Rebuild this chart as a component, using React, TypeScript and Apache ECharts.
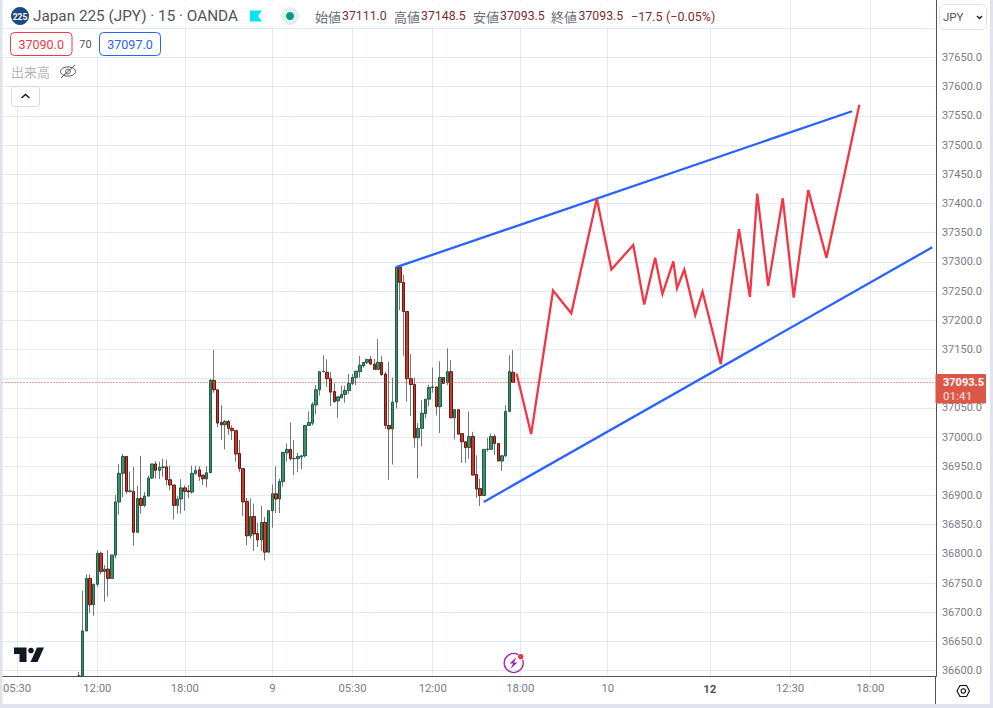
import React, { useEffect, useRef } from "react";
import * as echarts from "echarts";

// bar index of the first candle; each array runs from this bar onward
const firstBar = 21;
const barCount = 257;

const opens = [
  36591,36591,36668,36758,36713,36748,36801,36770,36774,36758,
  36798,36889,36938,36967,36907,36907,36837,36895,36883,36899,
  36930,36954,36943,36948,36949,36927,36918,36883,36894,36913,
  36908,36906,36938,36944,36935,36928.5,36939,37097,37081,37025,
  37021,37027,37015,37011,36972,36946,36890,36831,36864,36835,
  36824,36854,36803,36874,36903,36894,36924,36973,36979,36963,
  36963,36966,36968,37020,37024,37055,37081,37112,37111,37100,
  37078,37062,37067,37073,37080,37092,37102,37112,37122,37128,
  37133,37125,37116,37128,37108,37020,37014,37060,37291,37265,
  37215,37100,37090,36999,37015,37040,37065,37085,37086,37052,
  37102,37093,37112,37033,37047,37006,36992,36982,37001,36936,
  36912,36900,36979,36979,37001,36989,36959,36968,37044,37111,
];
const closes = [
  36591,36668,36758,36713,36748,36801,36770,36774,36758,36798,
  36889,36938,36967,36907,36908,36837,36895,36883,36899,36930,
  36954,36943,36948,36949,36927,36918,36883,36894,36913,36907,
  36906,36938,36943,36933,36928.5,36939,37097.5,37081,37024,37021,
  37027,37015,37011,36971,36946,36889,36831,36864,36834,36824,
  36854,36803,36874,36903,36894,36924,36974,36979,36963,36963.5,
  36967,36968,37020,37025,37056,37081,37112,37112.5,37100,37077,
  37061,37069,37073,37080,37092,37102,37113,37123,37128,37133,
  37125,37116,37128,37107,37020,37014,37060,37291,37265,37215,
  37100,37090,36999,37015,37041,37065,37085,37086,37052,37102,
  37092,37112,37033,37047,37005,36992,36982,37001,36935,36911,
  36900,36979,36979.5,37001,36989,36959,36968,37044,37112,37093.5,
];
const lows = [
  36591,36591,36668,36699,36694,36744,36765,36718,36727,36758,
  36792,36867,36897,36903,36905,36814,36837,36869,36880,36899,
  36928,36929,36928,36932,36917,36909,36859,36869,36869,36874,
  36895,36903,36935,36925,36918,36914,36939,37076,37017,36995,
  36979,37004,36995,36958,36940,36865,36815,36826,36805,36812,
  36805,36789,36803,36845,36870,36870,36915,36958,36960,36935,
  36940,36945,36965,37020,37020,37039,37071,37111,37086,37053,
  37059,37033,37067,37059,37074,37089,37089,37102,37119,37125,
  37125,37116,37116,37105,37014,36927,36953,37049,37217,37139,
  37061,37036,36982,36929,36984,37032,37053,37076,37037,37007,
  37092,37089,37033,36996,37005,36956,36956,36963,36935,36896,
  36882,36900,36975,36979,36969,36959,36942,36966,37044,37093.5,
];
const highs = [
  36598,36737,36765,36765,36748,36806,36804,36781,36806,36798,
  36901,36954,36971,36967,36941,36949,36917,36968,36906,36934,
  36954,36959,36958,36963,36961,36951,36918,36899,36928,36917,
  36918,36951,36951,36950,36935,36950,37100,37149,37081,37055,
  37029,37029,37020,37011,36995,36946,36896,36895,36886,36853,
  36882,36863,36874,36919,36950,36929,36974,36989,37025,36995,
  36973,36968,37020,37044,37060,37089,37112,37140,37133,37112,
  37092,37069,37088,37088,37108,37108,37113,37139,37128,37133,
  37139,37134,37168,37139,37112,37129,37102,37291,37291,37278,
  37215,37142,37102,37024,37063,37065,37090,37119,37086,37130,
  37102,37152,37132,37047,37047,37006,36992,37044,37009,36969,
  36929,36979,36999,37006,37005,36989,36968,37055,37140,37149,
];

const tickBars = [4, 26, 50, 74, 96, 118, 142, 166, 194, 216, 238];
const tickLabels = ["05:30", "12:00", "18:00", "9", "05:30", "12:00", "18:00", "10", "12", "12:30", "18:00"];

const redPathBars = [141,145,151,156,163,167,173,176,179,181,184,185,187,190,192,197,202,205,207,210,214,217,221,226,235];
const redPathPrices = [37109,37005,37251,37212,37408,37287,37329,37227,37307,37245,37301,37255,37287,37209,37249,37125,37356,37240,37417,37259,37409,37239,37423,37307,37569];
const upperTrendBars = [108, 233];
const upperTrendPrices = [37291, 37558];
const lowerTrendBars = [132, 255];
const lowerTrendPrices = [36889, 37325];

const lastPrice = 37093.5;
const axisMin = 36590.4;
const axisMax = 37748.5;

const GRID = "#e3ebf2";
const AXIS = "#50535e";
const LABEL = "#787b86";
const FONT = "Roboto, sans-serif";

const categories = Array.from({ length: barCount }, (_, i) => {
  const k = tickBars.indexOf(i);
  return k >= 0 ? tickLabels[k] : "";
});

const pad = (v: any[]) => [...Array(firstBar).fill("-"), ...v];
const wickData = pad(opens.map((o, i) => [o, closes[i], lows[i], highs[i]]));
const bodyData = pad(
  opens.map((o, i) => [o, closes[i], Math.min(o, closes[i]), Math.max(o, closes[i])])
);
const zip = (xs: number[], ys: number[]) => xs.map((x, i) => [x, ys[i]]);

const txt = (x: number, y: number, text: string, fill: string, size = 13, extra: any = {}) => ({
  type: "text",
  z: 100,
  x,
  y,
  style: { text, fill, fontSize: size, fontFamily: FONT, textVerticalAlign: "middle", verticalAlign: "middle", ...extra },
});
const box = (x: number, y: number, w: number, h: number, fill: string, stroke?: string, r = 0, opacity = 1, z = 90) => ({
  type: "rect",
  z,
  shape: { x, y, width: w, height: h, r },
  style: { fill, stroke: stroke ?? "none", lineWidth: 1, opacity },
});
const poly = (points: number[][], stroke: string, lineWidth = 1.3) => ({
  type: "polyline",
  z: 100,
  shape: { points },
  style: { stroke, lineWidth, fill: "none" },
});
const gon = (points: number[][], fill: string) => ({
  type: "polygon",
  z: 100,
  shape: { points },
  style: { fill },
});
const dot = (cx: number, cy: number, r: number, fill: string, stroke = "none", lineWidth = 0) => ({
  type: "circle",
  z: 100,
  shape: { cx, cy, r },
  style: { fill, stroke, lineWidth },
});

const OH = "#7a2e2e";
const G = "#6a6d78";
const CJK = "'Noto Sans CJK JP', sans-serif";

const elements: any[] = [
  // outer frame strips
  box(0, 0, 2.5, 708, "#e0e3eb", undefined, 0, 1, 120),
  box(0, 704, 993, 4, "#e0e3eb", undefined, 0, 1, 120),
  box(990, 0, 3, 708, "#e0e3eb", undefined, 0, 1, 120),
  { type: "line", z: 95, shape: { x1: 935.5, y1: 676, x2: 935.5, y2: 704 }, style: { stroke: AXIS, lineWidth: 1 } },

  // legend backdrops
  box(3, 1, 722, 26, "#ffffff", undefined, 0, 0.85),
  box(3, 29, 163, 27, "#ffffff", undefined, 0, 0.85),
  box(3, 58, 82, 25, "#ffffff", undefined, 0, 0.85),

  // title row
  dot(20, 16, 9, "#1d4a80"),
  txt(20, 16.5, "225", "#ffffff", 8.5, { textAlign: "center", fontWeight: 700 }),
  txt(33, 16, "Japan 225 (JPY) · 15 · OANDA", "#50535e", 15.3),
  gon([[250, 10.5], [262, 10.5], [258, 16], [262, 21.5], [250, 21.5]], "#00e5f2"),
  dot(290, 16, 9, "#e0f2ee"),
  dot(290, 16, 4, "#089981"),
  txt(315, 16, "始値", G, 13, { fontFamily: CJK }),
  txt(342, 16, "37111.0", OH, 12.3),
  txt(394, 16, "高値", G, 13, { fontFamily: CJK }),
  txt(421, 16, "37148.5", OH, 12.3),
  txt(473, 16, "安値", G, 13, { fontFamily: CJK }),
  txt(500, 16, "37093.5", OH, 12.3),
  txt(551, 16, "終値", G, 13, { fontFamily: CJK }),
  txt(578.5, 16, "37093.5", OH, 12.3),
  txt(631, 16, "−17.5", OH, 12.5),
  txt(666, 16, "(−0.05%)", OH, 12.5),

  // buy / sell row
  box(10.5, 32.5, 61.5, 23, "#ffffff", "#f23645", 4, 1, 96),
  txt(41.2, 44.5, "37090.0", "#f23645", 12.5, { textAlign: "center" }),
  txt(85.5, 44.5, "70", "#50535e", 11, { textAlign: "center" }),
  box(99.5, 32.5, 61, 23, "#ffffff", "#2962ff", 4, 1, 96),
  txt(130, 44.5, "37097.0", "#2962ff", 12.5, { textAlign: "center" }),

  // volume row
  txt(11, 71.5, "出来高", "#b2b5be", 13, { fontFamily: CJK }),
  { type: "ellipse", z: 100, shape: { cx: 68, cy: 71.5, rx: 7.5, ry: 4.6 }, style: { fill: "none", stroke: "#50535e", lineWidth: 1 } },
  { type: "circle", z: 100, shape: { cx: 68, cy: 71.5, r: 2.4 }, style: { fill: "none", stroke: "#50535e", lineWidth: 1 } },
  poly([[61, 78], [75, 65]], "#50535e", 1),

  // collapse button
  box(11.5, 86.5, 28, 20, "#ffffff", "#d6d9e0", 3, 1, 96),
  poly([[21.5, 98], [25.5, 94.5], [29.5, 98]], "#131722", 1.5),

  // currency select
  box(939.5, 4.5, 47, 25, "#ffffff", "#e0e3eb", 5, 1, 96),
  txt(943, 17, "JPY", "#50535e", 11.5),
  poly([[977, 16], [979.5, 18.5], [982, 16]], "#131722", 1.3),

  // last price badge
  box(935.5, 374, 50.5, 29.5, "#db5748", undefined, 1, 1, 96),
  txt(943, 382.5, "37093.5", "#ffffff", 11, { fontWeight: 700 }),
  txt(943, 396, "01:41", "#f6d0cb", 11.5, { fontWeight: 500 }),

  // TradingView logo
  gon([[14, 647.5], [26.5, 647.5], [26.5, 662], [19.5, 662], [19.5, 654], [14, 654]], "#131722"),
  dot(31, 650.5, 2.8, "#131722"),
  gon([[37, 647.5], [44, 647.5], [37.5, 662], [30.5, 662]], "#131722"),

  // news flash icon
  dot(513.7, 663, 9.5, "none", "#9c27b0", 1.4),
  gon([[516.5, 657], [509.5, 663.5], [513, 663.5], [510.5, 669], [517.5, 662.5], [514, 662.5]], "#9c27b0"),
  dot(520.7, 656.7, 3.2, "#f23645", "#ffffff", 1),

  // settings hexagon
  {
    type: "polygon",
    z: 100,
    shape: { points: [[957, 691], [960, 685.5], [966.5, 685.5], [969.5, 691], [966.5, 696.5], [960, 696.5]] },
    style: { fill: "none", stroke: "#131722", lineWidth: 1.2 },
  },
  dot(963.3, 691, 2.2, "none", "#131722", 1.2),
];

const option: any = {
  animation: false,
  backgroundColor: "#ffffff",
  grid: { left: 2, top: 0, width: 933.9, height: 676.3, containLabel: false },
  xAxis: [
    {
      type: "category",
      data: categories,
      boundaryGap: false,
      axisLine: { show: true, onZero: false, lineStyle: { color: AXIS, width: 1 } },
      axisTick: { show: false },
      axisLabel: {
        interval: (i: number) => tickBars.indexOf(i) >= 0,
        color: LABEL,
        fontSize: 11.3,
        fontFamily: FONT,
        margin: 7,
        formatter: (v: string) => (v === "12" ? "{b|12}" : v),
        rich: { b: { fontWeight: 700, color: "#50535e", fontSize: 11.5, fontFamily: FONT } },
      },
      splitLine: {
        show: true,
        interval: (i: number) => tickBars.indexOf(i) >= 0,
        lineStyle: { color: GRID, width: 1 },
      },
    },
    { type: "value", min: 0, max: barCount - 1, show: false, splitLine: { show: false } },
  ],
  yAxis: {
    type: "value",
    position: "right",
    min: axisMin,
    max: axisMax,
    minInterval: 50,
    maxInterval: 50,
    scale: true,
    axisLine: { show: true, onZero: false, lineStyle: { color: AXIS, width: 1 } },
    axisTick: { show: false },
    axisLabel: {
      color: LABEL,
      fontSize: 11,
      fontFamily: FONT,
      margin: 6,
      padding: [0, 0, 2, 0],
      showMinLabel: false,
      showMaxLabel: false,
      // 37100 sits behind the last-price badge, 37700 behind the currency select
      formatter: (v: number) => (v > 37650 || v < 36600 || v === 37100 ? "" : v.toFixed(1)),
    },
    splitLine: { show: true, showMinLine: false, showMaxLine: false, lineStyle: { color: GRID, width: 1 } },
  },
  series: [
    {
      name: "wicks",
      type: "candlestick",
      data: wickData,
      barWidth: 1,
      itemStyle: {
        color: "#73767b",
        color0: "#73767b",
        borderColor: "#73767b",
        borderColor0: "#73767b",
        borderColorDoji: "#73767b",
        borderWidth: 1,
      },
      z: 3,
    },
    {
      name: "bodies",
      type: "candlestick",
      data: bodyData,
      barWidth: 3,
      itemStyle: {
        color: "#3f8f6a",
        color0: "#c9382c",
        borderColor: "#1f5c40",
        borderColor0: "#651b14",
        borderColorDoji: "#1f5c40",
        borderWidth: 1,
      },
      z: 4,
    },
    {
      name: "last",
      type: "line",
      xAxisIndex: 1,
      data: [[0, lastPrice], [barCount - 1, lastPrice]],
      symbol: "none",
      silent: true,
      lineStyle: { color: "#e0483c", width: 1, type: [1, 2] },
      z: 5,
    },
    {
      name: "upper",
      type: "line",
      xAxisIndex: 1,
      data: zip(upperTrendBars, upperTrendPrices),
      symbol: "none",
      lineStyle: { color: "#2962ff", width: 2.3 },
      z: 6,
    },
    {
      name: "lower",
      type: "line",
      xAxisIndex: 1,
      data: zip(lowerTrendBars, lowerTrendPrices),
      symbol: "none",
      lineStyle: { color: "#2962ff", width: 2.3 },
      z: 6,
    },
    {
      name: "path",
      type: "line",
      xAxisIndex: 1,
      data: zip(redPathBars, redPathPrices),
      symbol: "none",
      lineStyle: { color: "#f23645", width: 2.3, join: "miter" },
      z: 7,
    },
  ],
  graphic: { elements },
};

export default function App() {
  const ref = useRef<HTMLDivElement>(null);
  useEffect(() => {
    const chart = echarts.init(ref.current!, undefined, { renderer: "svg" });
    chart.setOption(option);
    return () => chart.dispose();
  }, []);
  return (
    <div
      ref={ref}
      style={{ position: "absolute", left: 0, top: 0, width: 993, height: 708, overflow: "hidden" }}
    />
  );
}
